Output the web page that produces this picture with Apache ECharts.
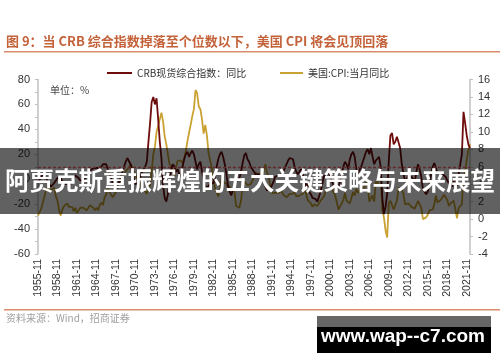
<!DOCTYPE html>
<html><head><meta charset="utf-8">
<script src="https://cdn.jsdelivr.net/npm/echarts@6/dist/echarts.min.js"></script>
<style>html,body{margin:0;padding:0;background:#fff}#c{width:500px;height:362px}</style>
</head><body><div id="c"></div>
<script>
// quarterly categories 1955-11 .. 2022-05
const categories = [];
(function(){ let y = 1955, m = 11; while (y < 2022 || (y === 2022 && m <= 5)) { categories.push(y + '-' + String(m).padStart(2,'0')); m += 3; if (m > 12) { m -= 12; y++; } } })();

const crbName = 'CRB现货综合指数：同比';
const cpiName = '美国:CPI:当月同比';

const crbValues = [ -3,
 -2,2,4,3, 1,-2,-4,-6, -5,-3,-1,1, 2,1,-2,-3, -4,-3,-2,-4,
 -3,1,3,2, 1,-1,-2,-1, 0,2,4,6, 8,7,9,10, 9,8,10,12,
 13,12,8,4, 1,-3,-6,-8, -6,-2,2,6, 10,14,17,18, 12,6,1,-4,
 -5,-2,2,5, 8,10,14,30, 45,62,66,60, 65,48,30,17, -5,-15,-18,-12,
 0,8,12,10, 6,8,4,2, 10,16,20,22, 18,21,23,20, 14,8,12,14,
 6,0,-5,-7, -6,-4,-5,-3, 2,10,16,20, 22,18,12,4, -5,-10,-13,-8,
 -6,-2,-3,1, 6,13,19,21, 16,14,10,8, 6,4,3,4, 2,0,-3,-6,
 -9,-10,-7,-5, -2,2,3,3, 2,4,6,9, 12,15,17,18, 16,10,6,4,
 5,8,4,-2, -6,-3,-10,-12, -15,-14,-16,-18, -17,-10,-4,2, 4,3,5,2,
 -2,-5,-9,-10, -6,-2,4,10, 14,12,8,16, 20,22,18,8, 5,6,10,14,
 18,22,24,20, 25,18,12,15, 16,18,10,-15, -28,-22,-12,15, 35,37,28,30,
 34,33,25,12, 5,-2,0,3, 4,2,0,-2, 6,12,8,2, -8,-10,-12,-10,
 -4,4,10,13, 12,5,4,6, 4,5,2,-1, -3,-4,-6,-2, 0,-5,4,12,
 20,54,45,35, 28,25 ];

const cpiValues = [ 0.4,
 0.4,1.2,1.9,2.1, 3.4,3.7,3.6,3.3, 3.2,3.6,2.6,2.1, 1.0,0.4,1.1,1.5, 1.7,1.8,1.4,1.4,
 1.4,0.9,1.3,0.7, 1.0,1.3,1.1,1.3, 1.3,1.0,1.3,1.6, 1.6,1.3,1.0,1.3, 1.0,1.6,1.9,1.6,
 2.5,2.8,3.5,3.6, 2.8,2.5,2.8,3.1, 3.9,4.0,4.4,4.8, 4.7,5.5,5.7,5.9, 6.3,6.0,5.4,5.5,
 4.7,4.4,4.4,3.5, 3.5,3.2,2.9,3.5, 3.9,5.5,7.4,8.3, 10.0,10.7,10.9,12.2, 11.2,9.5,8.6,7.4,
 6.3,6.2,5.7,4.9, 6.0,6.7,6.6,6.7, 6.4,6.9,7.8,8.9, 9.9,10.8,11.8,12.6, 14.8,14.4,12.9,12.6,
 11.4,9.8,10.8,9.6, 7.6,6.7,5.9,4.6, 3.5,3.5,2.6,3.3, 4.6,4.2,4.3,4.1, 3.5,3.8,3.3,3.5,
 3.1,1.5,1.6,1.3, 2.1,3.9,4.3,4.5, 3.9,3.9,4.0,4.2, 4.8,5.4,4.7,4.7, 5.3,4.4,5.6,6.3,
 5.3,5.0,3.8,3.0, 2.8,3.0,3.1,3.0, 3.2,3.2,2.8,2.7, 2.5,2.3,2.9,2.7, 2.9,3.2,2.6,2.6,
 2.7,2.9,2.9,3.3, 3.0,2.2,2.2,1.8, 1.4,1.7,1.6,1.5, 1.6,2.1,2.3,2.6, 3.2,3.2,3.4,3.4,
 3.5,3.6,2.7,1.9, 1.1,1.2,1.8,2.2, 3.0,2.1,2.2,1.8, 1.7,3.1,2.7,3.5, 3.0,2.8,3.6,3.5,
 3.6,4.2,3.8,2.0, 2.4,2.7,2.0,4.3, 4.0,4.2,5.4,1.1, 0.2,-1.3,-2.1,1.8, 2.1,2.0,1.1,1.1,
 2.1,3.6,3.8,3.4, 2.9,1.7,1.7,1.8, 2.0,1.4,1.5,1.2, 1.1,2.1,1.7,1.3, 0.0,0.0,0.2,0.5,
 1.0,1.0,1.1,1.7, 2.7,1.9,1.9,2.2, 2.2,2.8,2.7,2.2, 1.5,1.8,1.7,2.1, 2.3,0.1,1.3,1.2,
 1.7,5.0,5.3,6.8, 7.9,8.6 ];

const markDates = ['1970-05','1975-05','1980-02','1984-11','1996-02','2005-02','2009-02','2012-05','2022-05'];
const crbThreshold = 10;
const leftTicks = { min: -60, max: 80, interval: 20 };
const rightTicks = { min: -4, max: 16, interval: 2 };

const FONT = 'Liberation Sans, Arial, "Noto Sans CJK SC", sans-serif';
const CJK = '"Noto Sans CJK SC", "Liberation Sans", sans-serif';
const chart = echarts.init(document.getElementById('c'), null, { renderer: 'canvas' });

const vLines = markDates.map(d => [{ xAxis: d, yAxis: 73 }, { xAxis: d, yAxis: -67 }]);

chart.setOption({
  animation: false,
  backgroundColor: '#fff',
  grid: { left: 38, right: 30, top: 79.5, bottom: 108, containLabel: false },
  legend: [
    { data: [crbName], left: 107, top: 68, padding: 0, icon: 'rect', itemWidth: 25, itemHeight: 2, itemGap: 3,
      textStyle: { fontSize: 10, color: '#333', fontFamily: CJK } },
    { data: [cpiName], left: 280, top: 68, padding: 0, icon: 'rect', itemWidth: 23, itemHeight: 2,
      textStyle: { fontSize: 10, color: '#333', fontFamily: CJK } }
  ],
  xAxis: {
    type: 'category', data: categories, boundaryGap: false,
    axisLine: { show: false }, axisTick: { show: false },
    axisLabel: { interval: 11, rotate: 90, fontSize: 10.5, color: '#333', margin: 5, fontFamily: FONT },
    splitLine: { show: false }
  },
  yAxis: [
    { type: 'value', min: leftTicks.min, max: leftTicks.max, interval: leftTicks.interval, position: 'left',
      axisLine: { show: true, lineStyle: { color: '#c0c0c0', width: 1.5 } },
      axisTick: { show: true, inside: false, length: 3, lineStyle: { color: '#c0c0c0' } },
      minorTick: { show: true, splitNumber: 2, length: 3, lineStyle: { color: '#c0c0c0' } },
      axisLabel: { fontSize: 11, color: '#333', margin: 8, fontFamily: FONT },
      splitLine: { show: false } },
    { type: 'value', min: rightTicks.min, max: rightTicks.max, interval: rightTicks.interval, position: 'right',
      axisLine: { show: true, lineStyle: { color: '#c0c0c0', width: 1.5 } },
      axisTick: { show: true, inside: false, length: 3, lineStyle: { color: '#c0c0c0' } },
      axisLabel: { fontSize: 11, color: '#333', margin: 8, fontFamily: FONT },
      splitLine: { show: false } }
  ],
  series: [
    { name: crbName, type: 'line', yAxisIndex: 0, data: crbValues, showSymbol: false, symbol: 'none',
      lineStyle: { color: '#6e0b0b', width: 1.8 }, itemStyle: { color: '#6e0b0b' }, z: 3,
      markLine: { silent: true, symbol: 'none', label: { show: false }, animation: false,
        lineStyle: { color: '#ff7070', type: [3, 2], width: 1.3 },
        data: vLines.concat([[{ xAxis: categories[0], yAxis: crbThreshold }, { xAxis: categories[categories.length-1], yAxis: crbThreshold }]]) } },
    { name: cpiName, type: 'line', yAxisIndex: 1, data: cpiValues, showSymbol: false, symbol: 'none',
      lineStyle: { color: '#c9a233', width: 1.8 }, itemStyle: { color: '#c9a233' }, z: 2 }
  ],
  graphic: [
    { type: 'text', left: 6, top: 35, z: 50, style: { text: '图 9：当 CRB 综合指数掉落至个位数以下，美国 CPI 将会见顶回落', fill: '#c4623a', font: 'bold 13px ' + CJK } },
    { type: 'rect', shape: { x: 4, y: 51, width: 496, height: 1.6 }, style: { fill: '#d98c6c' }, z: 50 },
    { type: 'text', left: 50, top: 85, z: 50, style: { text: '单位：%', fill: '#444', font: '10px ' + CJK } },
    { type: 'rect', shape: { x: 4, y: 309, width: 496, height: 1.6 }, style: { fill: '#d98c6c' }, z: 50 },
    { type: 'text', left: 6, top: 313, z: 50, style: { text: '资料来源：Wind，招商证券', fill: '#a0a0a0', font: '10px ' + CJK } },
    { type: 'rect', shape: { x: 0, y: 148, width: 500, height: 66 }, style: { fill: 'rgba(0,0,0,0.62)' }, z: 100 },
    { type: 'text', x: 250, y: 181, z: 101, style: { text: '阿贾克斯重振辉煌的五大关键策略与未来展望', fill: '#fff', font: 'bold 24.5px ' + CJK, textAlign: 'center', textVerticalAlign: 'middle' } },
    { type: 'rect', shape: { x: 317, y: 316, width: 174, height: 12 }, style: { fill: '#666' }, z: 100 },
    { type: 'rect', shape: { x: 317, y: 327, width: 174, height: 26 }, style: { fill: '#000' }, z: 100 },
    { type: 'text', x: 403, y: 337, z: 101, style: { text: 'www.wap--c7.com', fill: '#fff', font: 'bold 19px ' + FONT, textAlign: 'center', textVerticalAlign: 'middle' } }
  ]
});
</script></body></html>
